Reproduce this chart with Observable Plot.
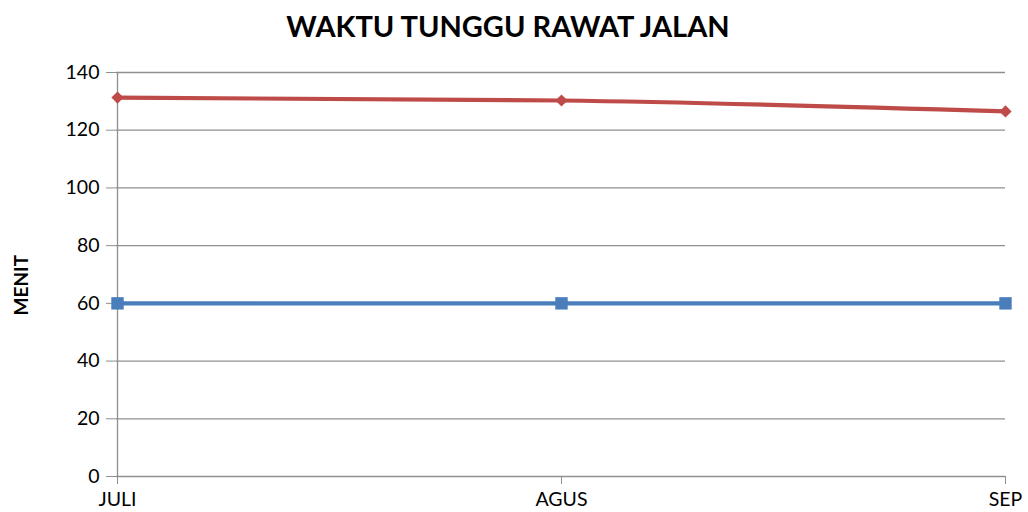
<!DOCTYPE html>
<html>
<head>
<meta charset="utf-8">
<script src="https://cdn.jsdelivr.net/npm/d3@7"></script>
<script src="https://cdn.jsdelivr.net/npm/@observablehq/plot@0.6"></script>
<style>
  html, body { margin: 0; padding: 0; background: #fff; }
  #wrap { width: 1028px; height: 512px; position: relative; overflow: hidden; }
  #title { height: 50px; line-height: 52px; text-align: center; font-family: Lato, sans-serif; font-weight: 700; font-size: 29px; color: #000; padding-right: 12px; box-sizing: border-box; }
</style>
</head>
<body>
<div id="wrap">
  <div id="title">WAKTU TUNGGU RAWAT JALAN</div>
  <div id="chart"></div>
</div>
<script>
const months = ["JULI", "AGUS", "SEP"];
const waktuTunggu = [131.3, 130.3, 126.5];
const standar = [60, 60, 60];
const yTicks = [0, 20, 40, 60, 80, 100, 120, 140];
const yLabel = "MENIT";

const red = months.map((m, i) => ({month: m, value: waktuTunggu[i]}));
const blue = months.map((m, i) => ({month: m, value: standar[i]}));

const grid = "#8f8f8f";

const chart = Plot.plot({
  width: 1028,
  height: 462,
  marginLeft: 116,
  marginRight: 23,
  marginTop: 22,
  marginBottom: 36,
  x: {type: "point", domain: months, padding: 0},
  y: {domain: [0, 140]},
  style: {fontFamily: "Lato, sans-serif", fontSize: "19.5px", color: "#000", background: "#fff"},
  marks: [
    Plot.gridY(yTicks, {stroke: grid, strokeOpacity: 1, strokeWidth: 1.3}),
    Plot.ruleX([months[0]], {y1: 0, y2: 140, stroke: grid, strokeWidth: 1.3}),
    Plot.axisY(yTicks, {tickSize: 10, tickPadding: 7, stroke: grid, fill: "#000", label: null}),
    Plot.axisX({tickSize: 8, tickPadding: 8, stroke: grid, fill: "#000", label: null}),
    Plot.text([yLabel], {frameAnchor: "left", dx: -95, dy: 41, rotate: -90, text: d => d, fontWeight: "bold", fontSize: 19, fill: "#000"}),
    Plot.lineY(blue, {x: "month", y: "value", stroke: "#4a7ebb", strokeWidth: 4.2}),
    Plot.dot(blue, {x: "month", y: "value", symbol: "square", r: 7, fill: "#4a7ebb", stroke: "none"}),
    Plot.lineY(red, {x: "month", y: "value", stroke: "#be4b48", strokeWidth: 4.2, curve: "monotone-x"}),
    Plot.dot(red, {x: "month", y: "value", symbol: "diamond2", r: 5.5, fill: "#be4b48", stroke: "none"})
  ]
});
document.getElementById("chart").appendChild(chart);
</script>
</body>
</html>
